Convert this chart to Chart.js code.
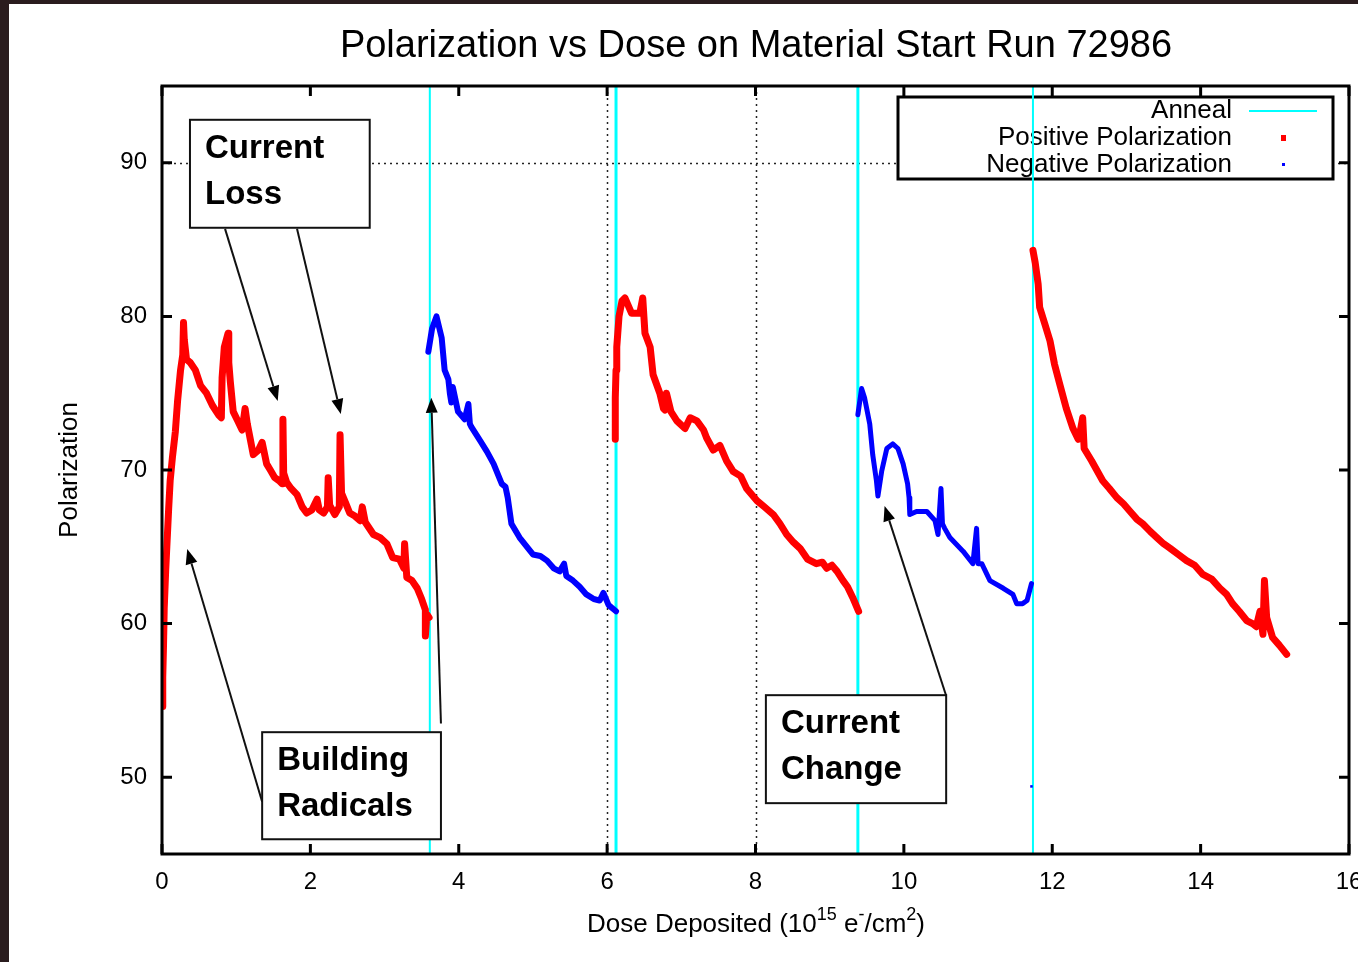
<!DOCTYPE html>
<html><head><meta charset="utf-8">
<script src="https://cdn.jsdelivr.net/npm/chart.js@4.4.0/dist/chart.umd.min.js"></script>
<style>html,body{margin:0;padding:0;background:#fff;overflow:hidden}#wrap{width:1358px;height:962px}</style>
</head><body><div id="wrap"><canvas id="c" width="1358" height="962"></canvas></div>
<script>
// ---------- DATA ----------
const xTicks = [0, 2, 4, 6, 8, 10, 12, 14, 16];
const yTicks = [50, 60, 70, 80, 90];
const gridDose = [6, 8];
const gridPol = [90];
const annealDose = [3.61, 6.12, 9.38, 11.74];

const seg1Dose = [0.00,0.01,0.02,0.03,0.05,0.07,0.09,0.11,0.14,0.18,0.21,0.25,0.28,0.29,0.30,0.33,0.38,0.45,0.52,0.60,0.68,0.76,0.80,0.81,0.84,0.89,0.90,0.92,0.96,1.02,1.08,1.12,1.15,1.19,1.23,1.30,1.35,1.41,1.46,1.52,1.58,1.62,1.63,1.64,1.68,1.74,1.82,1.89,1.95,2.02,2.09,2.12,2.18,2.23,2.24,2.26,2.33,2.39,2.40,2.42,2.48,2.53,2.60,2.67,2.70,2.74,2.85,2.94,3.03,3.11,3.20,3.26,3.27,3.30,3.37,3.44,3.50,3.55,3.55,3.57,3.60];
const seg1Pol  = [54.6,56.5,58.5,61.0,63.5,65.5,67.5,69.3,70.8,72.5,74.5,76.5,77.5,79.6,78.5,77.2,77.0,76.5,75.5,75.0,74.2,73.6,73.4,76.0,78.0,78.9,77.0,75.8,73.8,73.2,72.6,74.0,73.0,72.0,71.0,71.3,71.8,70.4,70.0,69.5,69.3,69.1,73.3,69.8,69.2,68.8,68.4,67.6,67.2,67.4,68.1,67.4,67.2,67.6,69.5,67.7,67.1,67.6,72.3,68.5,67.8,67.2,67.0,66.7,67.6,66.6,65.8,65.6,65.2,64.3,64.2,63.6,65.2,63.0,62.8,62.3,61.6,60.9,59.2,60.6,60.4];

const seg2Dose = [3.59,3.64,3.70,3.77,3.81,3.86,3.88,3.90,3.92,3.99,4.08,4.13,4.15,4.17,4.29,4.38,4.47,4.58,4.63,4.66,4.71,4.82,5.00,5.10,5.19,5.28,5.36,5.42,5.45,5.54,5.63,5.72,5.82,5.90,5.95,6.02,6.12];
const seg2Pol  = [77.7,79.2,80.0,78.6,76.5,75.9,75.0,74.4,75.4,73.8,73.3,74.3,73.0,72.8,71.9,71.2,70.4,69.1,68.9,68.2,66.5,65.6,64.5,64.4,64.1,63.6,63.4,63.9,63.1,62.8,62.4,61.9,61.6,61.5,62.0,61.2,60.8];

const seg3Dose = [6.11,6.11,6.12,6.13,6.16,6.20,6.24,6.33,6.44,6.48,6.51,6.58,6.62,6.71,6.76,6.78,6.80,6.86,6.94,7.05,7.12,7.21,7.30,7.34,7.43,7.52,7.61,7.70,7.80,7.88,8.02,8.12,8.24,8.33,8.42,8.51,8.60,8.70,8.82,8.90,8.96,9.03,9.10,9.18,9.24,9.31,9.39];
const seg3Pol  = [72.0,74.7,76.5,78.0,80.0,81.0,81.2,80.2,80.2,81.2,78.9,78.0,76.2,75.0,74.0,73.9,75.0,73.8,73.2,72.7,73.4,73.2,72.6,72.1,71.3,71.6,70.6,69.9,69.6,68.8,68.0,67.6,67.1,66.5,65.8,65.3,64.9,64.2,63.9,64.0,63.6,63.8,63.4,62.8,62.4,61.7,60.8];

const seg4Dose = [9.38,9.43,9.47,9.54,9.58,9.63,9.65,9.70,9.77,9.85,9.92,9.99,10.05,10.07,10.08,10.17,10.31,10.42,10.46,10.50,10.52,10.55,10.62,10.80,10.93,10.98,11.00,11.05,11.16,11.34,11.47,11.52,11.60,11.66,11.72];
const seg4Pol  = [73.6,75.3,74.7,73.0,71.0,69.3,68.3,69.9,71.4,71.7,71.4,70.4,69.1,68.2,67.1,67.3,67.3,66.7,65.8,68.8,66.5,66.2,65.6,64.7,63.9,66.2,63.9,63.9,62.8,62.3,61.9,61.3,61.3,61.5,62.6];

const lonePointDose = [11.72];
const lonePointPol  = [49.4];

const seg5Dose = [11.74,11.77,11.79,11.81,11.83,11.90,11.97,12.03,12.10,12.19,12.28,12.35,12.38,12.41,12.43,12.53,12.68,12.77,12.87,12.96,13.05,13.14,13.22,13.32,13.41,13.50,13.59,13.70,13.81,13.92,14.03,14.15,14.26,14.35,14.43,14.52,14.62,14.70,14.75,14.80,14.84,14.86,14.89,14.97,15.06,15.16];
const seg5Pol  = [84.3,83.5,82.8,82.1,80.6,79.5,78.4,76.9,75.6,74.0,72.7,72.0,72.6,73.4,71.4,70.6,69.3,68.8,68.2,67.8,67.3,66.8,66.5,66.0,65.6,65.2,64.9,64.5,64.1,63.8,63.2,62.9,62.3,61.9,61.3,60.8,60.2,60.0,59.8,60.8,59.3,62.8,60.4,59.1,58.6,58.0];

const xMin = 0, xMax = 16, yMin = 45, yMax = 95;

// ---------- ANNOTATIONS (data coords) ----------
const notes = [
  {lines:['Current','Loss'], x0:0.377, y0:92.8, x1:2.80, y1:85.77},
  {lines:['Building','Radicals'], x0:1.35, y0:52.93, x1:3.76, y1:45.96},
  {lines:['Current','Change'], x0:8.14, y0:55.34, x1:10.57, y1:48.31}
];
const arrows = [
  {from:[0.85,85.7], to:[1.56,74.5]},
  {from:[1.82,85.7], to:[2.41,73.65]},
  {from:[1.35,48.4], to:[0.34,64.85]},
  {from:[3.76,53.5], to:[3.63,74.7]},
  {from:[10.57,55.3], to:[9.74,67.65]}
];

const RED = '#ff0000', BLUE = '#0000ff', CYAN = '#00ffff';
const FONT = '"Liberation Sans", Arial, Helvetica, sans-serif';

function pts(xs, ys){ return xs.map((x,i)=>({x:x, y:ys[i]})); }
function segDS(xs, ys, color, w){
  return {data:pts(xs,ys), showLine:true, borderColor:color, backgroundColor:color, borderWidth:w,
    pointRadius:0, pointHoverRadius:0, borderJoinStyle:'round', borderCapStyle:'round', tension:0};
}
const datasets = [
  segDS(seg1Dose, seg1Pol, RED, 7),
  segDS(seg3Dose, seg3Pol, RED, 7),
  segDS(seg5Dose, seg5Pol, RED, 7),
  segDS(seg2Dose, seg2Pol, BLUE, 6),
  segDS(seg4Dose, seg4Pol, BLUE, 5),
  {data:pts(lonePointDose, lonePointPol), showLine:false, pointRadius:1.8, pointStyle:'rect', backgroundColor:BLUE, borderColor:BLUE, borderWidth:0},
];
annealDose.forEach((a,i)=>{
  datasets.push({data:[{x:a,y:yMin},{x:a,y:yMax}], showLine:true, borderColor:CYAN,
    borderWidth:(i===1||i===2)?3:2, pointRadius:0, pointHoverRadius:0});
});

function arrow(ctx, x0,y0,x1,y1){
  const ang = Math.atan2(y1-y0, x1-x0), L=15, W=6;
  const bx = x1 - L*Math.cos(ang), by = y1 - L*Math.sin(ang);
  ctx.beginPath(); ctx.moveTo(x0,y0); ctx.lineTo(bx,by); ctx.stroke();
  ctx.beginPath(); ctx.moveTo(x1,y1);
  ctx.lineTo(bx + W*Math.sin(ang), by - W*Math.cos(ang));
  ctx.lineTo(bx - W*Math.sin(ang), by + W*Math.cos(ang));
  ctx.closePath(); ctx.fill();
}

const overlay = {
  id:'overlay',
  beforeDraw(chart){
    const ctx = chart.ctx; ctx.save();
    ctx.fillStyle='#fff'; ctx.fillRect(0,0,chart.width,chart.height);
    ctx.fillStyle='#2a1c1e'; ctx.fillRect(0,0,9,chart.height); ctx.fillRect(0,0,chart.width,4);
    ctx.restore();
  },
  beforeDatasetsDraw(chart){
    const ctx = chart.ctx, a = chart.chartArea, sx = chart.scales.x, sy = chart.scales.y;
    ctx.save();
    // dotted grid
    ctx.strokeStyle='#222'; ctx.lineWidth=1.5; ctx.setLineDash([2,4]);
    gridPol.forEach(v=>{ const y=Math.round(sy.getPixelForValue(v))+0.5; ctx.beginPath(); ctx.moveTo(a.left,y); ctx.lineTo(a.right,y); ctx.stroke(); });
    gridDose.forEach(v=>{ const x=Math.round(sx.getPixelForValue(v))+0.5; ctx.beginPath(); ctx.moveTo(x,a.top); ctx.lineTo(x,a.bottom); ctx.stroke(); });
    ctx.setLineDash([]);
    // legend
    const lx0=898, ly0=97, lx1=1333, ly1=179;
    ctx.fillStyle='#fff'; ctx.fillRect(lx0,ly0,lx1-lx0,ly1-ly0);
    ctx.strokeStyle='#000'; ctx.lineWidth=3; ctx.strokeRect(lx0,ly0,lx1-lx0,ly1-ly0);
    ctx.fillStyle='#000'; ctx.font='26px '+FONT; ctx.textAlign='right'; ctx.textBaseline='middle';
    ctx.fillText('Anneal', 1232, 111);
    ctx.fillText('Positive Polarization', 1232, 138);
    ctx.fillText('Negative Polarization', 1232, 165);
    ctx.strokeStyle=CYAN; ctx.lineWidth=2; ctx.beginPath(); ctx.moveTo(1249,111); ctx.lineTo(1317,111); ctx.stroke();
    ctx.fillStyle=RED; ctx.fillRect(1281,135,5,6);
    ctx.fillStyle=BLUE; ctx.fillRect(1282,163,3,3);
    ctx.restore();
  },
  afterDatasetsDraw(chart){
    const ctx = chart.ctx, a = chart.chartArea, sx = chart.scales.x, sy = chart.scales.y;
    ctx.save();
    // annotation boxes (opaque, over anneal lines)
    notes.forEach(n=>{
      const x0=sx.getPixelForValue(n.x0), x1=sx.getPixelForValue(n.x1);
      const y0=sy.getPixelForValue(n.y0), y1=sy.getPixelForValue(n.y1);
      ctx.fillStyle='#fff'; ctx.fillRect(x0,y0,x1-x0,y1-y0);
      ctx.strokeStyle='#111'; ctx.lineWidth=2; ctx.strokeRect(x0,y0,x1-x0,y1-y0);
      ctx.fillStyle='#000'; ctx.font='bold 33px '+FONT; ctx.textAlign='left'; ctx.textBaseline='middle';
      ctx.fillText(n.lines[0], x0+15, y0+29);
      ctx.fillText(n.lines[1], x0+15, y0+75);
    });
    ctx.strokeStyle='#111'; ctx.fillStyle='#000'; ctx.lineWidth=2;
    arrows.forEach(r=>{
      arrow(ctx, sx.getPixelForValue(r.from[0]), sy.getPixelForValue(r.from[1]),
                 sx.getPixelForValue(r.to[0]), sy.getPixelForValue(r.to[1]));
    });
    // border
    ctx.strokeStyle='#000'; ctx.lineWidth=3;
    ctx.strokeRect(a.left, a.top, a.right-a.left, a.bottom-a.top);
    // inward ticks on all sides
    ctx.lineWidth=3; const T=10;
    xTicks.forEach(v=>{ const x=sx.getPixelForValue(v);
      ctx.beginPath(); ctx.moveTo(x,a.bottom); ctx.lineTo(x,a.bottom-T); ctx.moveTo(x,a.top); ctx.lineTo(x,a.top+T); ctx.stroke(); });
    yTicks.forEach(v=>{ const y=sy.getPixelForValue(v);
      ctx.beginPath(); ctx.moveTo(a.left,y); ctx.lineTo(a.left+T,y); ctx.moveTo(a.right,y); ctx.lineTo(a.right-T,y); ctx.stroke(); });
    ctx.restore();
  },
  afterDraw(chart){
    const ctx = chart.ctx; ctx.save();
    ctx.fillStyle='#000';
    ctx.font='38px '+FONT; ctx.textAlign='center'; ctx.textBaseline='middle';
    ctx.fillText('Polarization vs Dose on Material Start Run 72986', 756, 47);
    // y title
    ctx.save(); ctx.translate(70, 470); ctx.rotate(-Math.PI/2);
    ctx.font='26px '+FONT; ctx.fillText('Polarization', 0, 0); ctx.restore();
    // x title with superscripts
    const parts=[['Dose Deposited (10',0],['15',1],[' e',0],['-',1],['/cm',0],['2',1],[')',0]];
    const big='26px '+FONT, small='18px '+FONT;
    let w=0; parts.forEach(p=>{ ctx.font=p[1]?small:big; w+=ctx.measureText(p[0]).width; });
    let x = 756 - w/2; ctx.textAlign='left'; ctx.textBaseline='alphabetic';
    parts.forEach(p=>{ ctx.font=p[1]?small:big; ctx.fillText(p[0], x, p[1]?920:932); x+=ctx.measureText(p[0]).width; });
    ctx.restore();
  }
};

new Chart(document.getElementById('c'), {
  type:'scatter',
  data:{datasets:datasets},
  options:{
    responsive:false, animation:false, devicePixelRatio:1,
    layout:{padding:{left:102, right:9, top:86, bottom:48}},
    plugins:{legend:{display:false}, tooltip:{enabled:false}, title:{display:false}},
    scales:{
      x:{type:'linear', min:xMin, max:xMax, position:'bottom',
        grid:{display:false, drawTicks:false}, border:{display:false},
        ticks:{font:{size:24, family:FONT}, color:'#000', padding:14, maxRotation:0, autoSkip:false},
        afterBuildTicks:s=>{ s.ticks = xTicks.map(v=>({value:v})); },
        afterFit:s=>{ s.height=60; s.paddingLeft=0; s.paddingRight=0; }},
      y:{type:'linear', min:yMin, max:yMax,
        grid:{display:false, drawTicks:false}, border:{display:false},
        ticks:{font:{size:24, family:FONT}, color:'#000', padding:15, autoSkip:false},
        afterBuildTicks:s=>{ s.ticks = yTicks.map(v=>({value:v})); },
        afterFit:s=>{ s.width=60; s.paddingTop=0; s.paddingBottom=0; }}
    }
  },
  plugins:[overlay]
});
</script>
</body></html>
